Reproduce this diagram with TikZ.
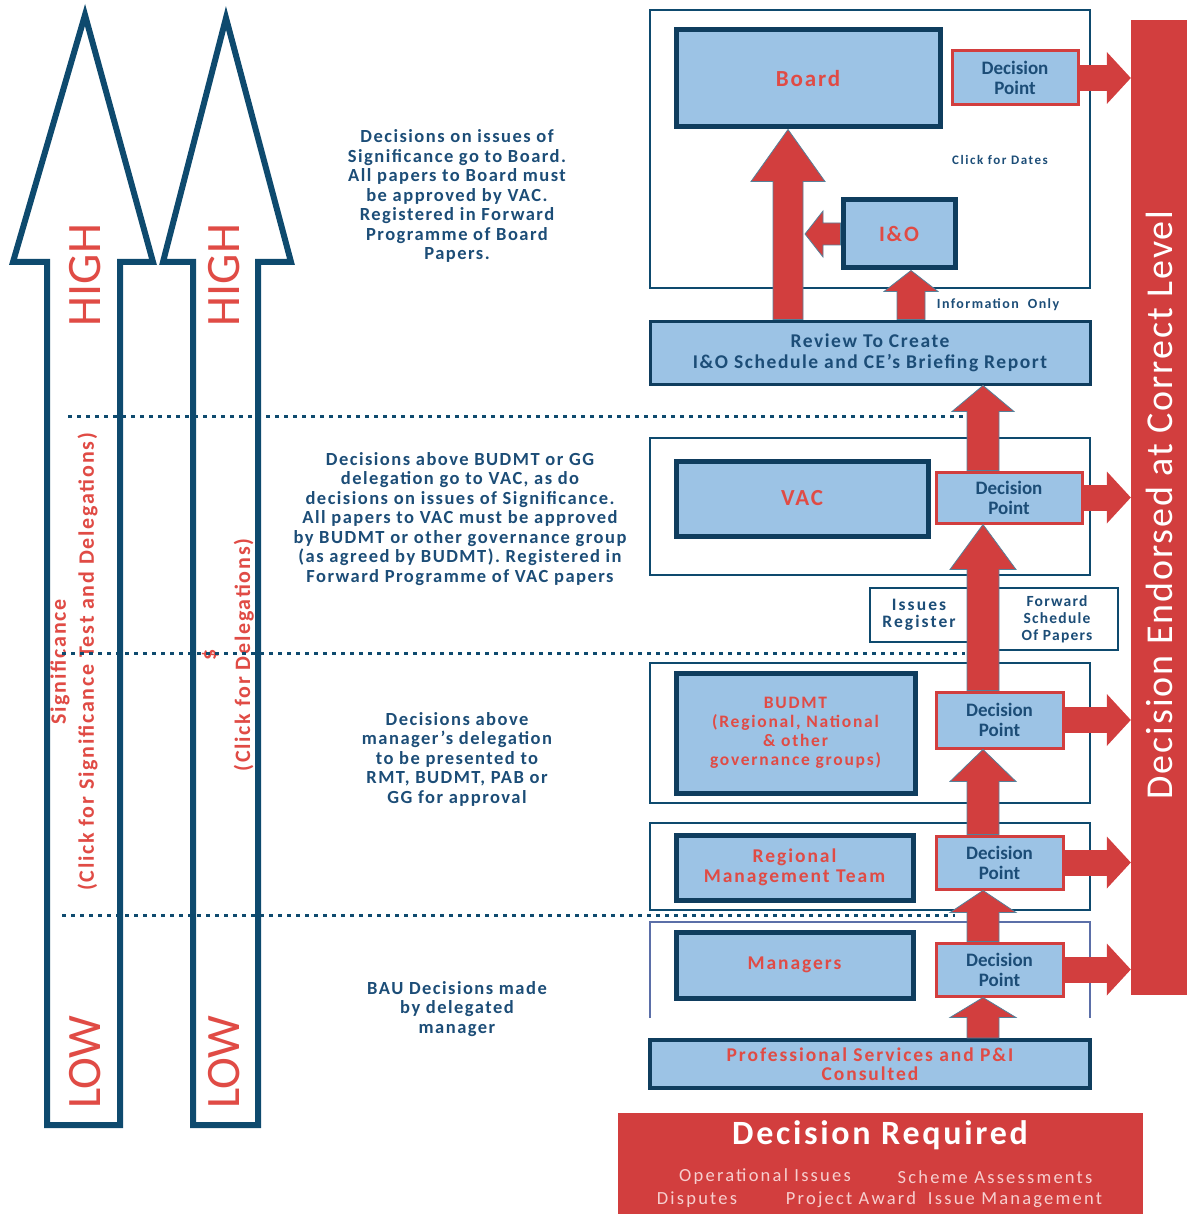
\documentclass[tikz,border=0pt]{standalone}
\usepackage{fontspec}
\setmainfont{Carlito}
\usetikzlibrary{arrows.meta,calc}
\definecolor{navy}{HTML}{0E4A6E}
\definecolor{boxnavy}{HTML}{0F3D5E}
\definecolor{txtnavy}{HTML}{1C4D77}
\definecolor{lblue}{HTML}{9CC3E5}
\definecolor{bred}{HTML}{D23E3E}
\definecolor{tred}{HTML}{E04B45}
\definecolor{pink}{HTML}{F6CFCF}
\definecolor{lav}{HTML}{5B6FA8}
\newcommand\fsz[2]{\fontsize{#1}{#2}\selectfont}
\newcommand\lsp[1]{\addfontfeature{LetterSpace=#1}}
\begin{document}
\begin{tikzpicture}[x=1pt,y=-1pt,
  sz/.style 2 args={minimum width=#1, minimum height=#2, inner sep=0pt},
  outerbox/.style={draw=navy, line width=2pt},
  orgbox/.style={draw=boxnavy, fill=lblue, line width=5pt, text=tred, align=center, font=\bfseries\fsz{19.5}{19.5}\lsp{10}},
  dpbox/.style={draw=bred, fill=lblue, line width=3pt, text=txtnavy, align=center, font=\bfseries\fsz{19}{20}},
  infobox/.style={draw=navy, line width=2pt, fill=white, text=txtnavy, align=center, font=\bfseries\fsz{17.5}{17}\lsp{12}},
  blocktext/.style={text=txtnavy, align=center, font=\bfseries\fsz{18.5}{19.5}\lsp{8}},
  bigarrow/.style={draw=navy, line width=6pt, fill=white, line join=miter},
  redright/.style args={#1/#2/#3}{draw=bred, line width=#1pt, -{Triangle[width=#2pt, length=#3pt, line width=0pt]}},
  blockup/.style args={#1/#2/#3}{draw=navy!70, line width=0.8pt, fill=bred, line join=miter,
    to path={let \p1=(\tikztostart), \p2=(\tikztotarget) in
      (\x1-#1pt/2,\y1) -- (\x1-#1pt/2,\y2-#3pt) -- (\x1-#2pt/2,\y2-#3pt) -- (\x1,\y2)
      -- (\x1+#2pt/2,\y2-#3pt) -- (\x1+#1pt/2,\y2-#3pt) -- (\x1+#1pt/2,\y1) -- cycle}},
  blockleft/.style args={#1/#2/#3}{draw=navy!70, line width=0.8pt, fill=bred, line join=miter,
    to path={let \p1=(\tikztostart), \p2=(\tikztotarget) in
      (\x1,\y1-#1pt/2) -- (\x2+#3pt,\y1-#1pt/2) -- (\x2+#3pt,\y1-#2pt/2) -- (\x2,\y1)
      -- (\x2+#3pt,\y1+#2pt/2) -- (\x2+#3pt,\y1+#1pt/2) -- (\x1,\y1+#1pt/2) -- cycle}},
  levtext/.style={text=tred, font=\fsz{48}{50}, rotate=90},
  dotline/.style={draw=navy, line width=3pt, dash pattern=on 4pt off 5pt},
  reqitem/.style={text=pink, font=\fsz{18.5}{18}\lsp{12}}
]
\useasboundingbox (0,0) rectangle (1187,1214);

% left significance arrows
\draw[bigarrow] (47,1125) -- (47,262) -- (13,262) -- (85,15) -- (153,262) -- (120,262) -- (120,1125) -- cycle;
\draw[bigarrow] (193,1125) -- (193,262) -- (163,262) -- (226,18) -- (291,262) -- (258,262) -- (258,1125) -- cycle;

\node[levtext] (high1) at (85,275) {HIGH};
\node[levtext] (low1) at (85,1062) {LOW};
\node[levtext] (high2) at (224,275) {HIGH};
\node[levtext] (low2) at (224,1062) {LOW};
\node[text=tred, rotate=90, align=center, font=\bfseries\fsz{22}{28}\lsp{8}] (sig) at (74,662)
  {Significance\\(Click for Significance Test and Delegations)};
\node[text=tred, rotate=90, align=center, font=\bfseries\fsz{22}{34}\lsp{8}] (dele) at (228,655)
  {\$\\(Click for Delegations)};

% dotted level lines
\draw[dotline] (68,416) -- (965,416);
\draw[dotline] (62,653) -- (965,653);
\draw[dotline] (62,915) -- (955,915);

% explanatory texts
\node[blocktext] (t1) at (457,196) {Decisions on issues of\\Significance go to Board.\\All papers to Board must\\be approved by VAC.\\Registered in Forward\\Programme of Board\\Papers.};
\node[blocktext] (t2) at (460,519) {Decisions above BUDMT or GG\\delegation go to VAC, as do\\decisions on issues of Significance.\\All papers to VAC must be approved\\by BUDMT or other governance group\\(as agreed by BUDMT). Registered in\\Forward Programme of VAC papers};
\node[blocktext] (t3) at (457,759) {Decisions above\\manager's delegation\\to be presented to\\RMT, BUDMT, PAB or\\GG for approval};
\node[blocktext] (t4) at (457,1009) {BAU Decisions made\\by delegated\\manager};

% right: red bar
\node[fill=bred, sz={56}{975}] (bar) at (1159,507.5) {};
\node[text=white, rotate=90, font=\fsz{38}{40}\lsp{5}] (endorsed) at (1159,505) {Decision Endorsed at Correct Level};

% outer boxes
\node[outerbox, sz={440}{278}] (outer1) at (870,149) {};
\node[outerbox, sz={440}{137}] (outer2) at (870,506.5) {};
\node[outerbox, sz={440}{140}] (outer3) at (870,733) {};
\node[outerbox, sz={440}{87}] (outer4) at (870,866.5) {};
\draw[draw=lav, line width=2pt] (650,1018) -- (650,922) -- (1090,922) -- (1090,1018);

% organisation boxes
\node[orgbox, sz={264}{97}, font=\bfseries\fsz{23}{23}\lsp{8}] (board) at (808,78.5) {Board};
\node[orgbox, sz={112}{68}, font=\bfseries\fsz{22}{22}\lsp{8}] (io) at (899,234) {I\&O};
\node[orgbox, sz={252}{75}, font=\bfseries\fsz{23}{23}\lsp{8}] (vac) at (802,498.5) {VAC};
\node[orgbox, sz={239}{120}, font=\bfseries\fsz{17.5}{19}\lsp{10}] (budmt) at (795.5,733) {BUDMT\\(Regional, National\\\& other\\governance groups)};
\node[orgbox, sz={237}{65}] (rmt) at (794.5,867.5) {Regional\\Management Team};
\node[orgbox, sz={237}{66}] (mgr) at (794.5,965) {Managers};
\node[orgbox, sz={440}{48}, line width=4pt] (ps) at (870,1064) {Professional Services and P\&I\\Consulted};
\node[draw=boxnavy, fill=lblue, line width=3pt, text=txtnavy, align=center, font=\bfseries\fsz{19.5}{21}\lsp{8}, sz={440}{63}] (review) at (870,352.5) {Review To Create\\I\&O Schedule and CE's Briefing Report};

% info boxes
\node[infobox, sz={98}{54}] (issues) at (919,615) {Issues\\Register};
\node[infobox, sz={122}{62}, font=\bfseries\fsz{15.5}{17}\lsp{8}] (fwd) at (1057,619) {Forward\\Schedule\\Of Papers};

% small labels
\node[text=txtnavy, font=\bfseries\fsz{14}{14}\lsp{10}] (info) at (998,305) {Information\ \ Only};
\node[text=txtnavy, font=\bfseries\fsz{13}{13}\lsp{12}] (dates) at (1000,160) {Click for Dates};

% decision points
\node[dpbox, sz={126}{54}] (dp1) at (1015,78) {Decision\\Point};
\node[dpbox, sz={146}{51}] (dp2) at (1009,497.5) {Decision\\Point};
\node[dpbox, sz={127}{56}] (dp3) at (999.5,720) {Decision\\Point};
\node[dpbox, sz={127}{53}] (dp4) at (999.5,862.5) {Decision\\Point};
\node[dpbox, sz={127}{53}] (dp5) at (999.5,969.5) {Decision\\Point};

% arrow axes
\coordinate (ax) at (983,0);
\coordinate (bx) at (788,0);
\coordinate (ix) at (911,0);
\coordinate (ioend) at (805,234);

% upward red arrows
\draw[blockup={32/66/20}] (ps.north -| ax) to (dp5.south -| ax);
\draw[blockup={32/66/22}] (dp5.north -| ax) to (dp4.south -| ax);
\draw[blockup={32/66/32}] (dp4.north -| ax) to (dp3.south -| ax);
\draw[blockup={32/66/45}] (dp3.north -| ax) to (dp2.south -| ax);
\draw[blockup={32/62/26}] (dp2.north -| ax) to (review.south -| ax);
\draw[blockup={30/74/52}] (review.north -| bx) to (board.south -| bx);
\draw[blockup={28/54/21}] (review.north -| ix) to (io.south -| ix);
\draw[blockleft={22/46/18}] (io.west) to (ioend);

% right red arrows
\draw[redright={26/52/24}] (dp1.east) -- (dp1.east -| bar.west);
\draw[redright={26/52/24}] (dp2.east) -- (dp2.east -| bar.west);
\draw[redright={26/52/24}] (dp3.east) -- (dp3.east -| bar.west);
\draw[redright={26/52/24}] (dp4.east) -- (dp4.east -| bar.west);
\draw[redright={26/52/24}] (dp5.east) -- (dp5.east -| bar.west);

% decision required
\node[fill=bred, sz={525}{101}] (req) at (880.5,1163.5) {};
\node[text=white, font=\bfseries\fsz{34}{34}\lsp{8}] (reqt) at (880,1135) {Decision Required};
\node[reqitem] (r1) at (765,1177) {Operational Issues};
\node[reqitem] (r2) at (995,1177) {Scheme Assessments};
\node[reqitem] (r3) at (697,1200) {Disputes};
\node[reqitem] (r4) at (851,1200) {Project Award};
\node[reqitem] (r5) at (1015,1200) {Issue Management};
\end{tikzpicture}
\end{document}
